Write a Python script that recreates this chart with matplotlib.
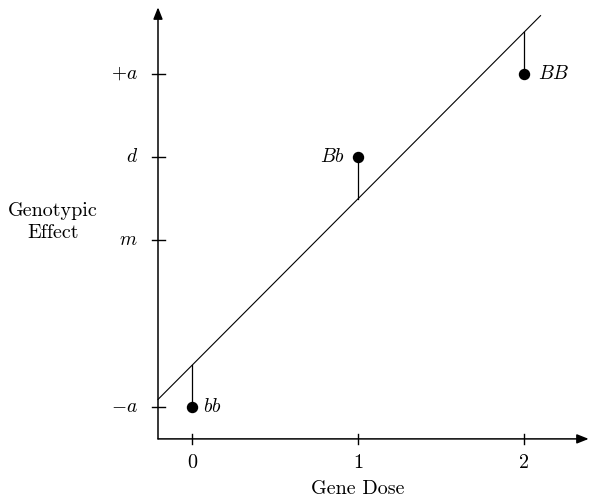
import numpy as np
import matplotlib.pyplot as plt

plt.rcParams['mathtext.fontset'] = 'cm'
plt.rcParams['font.family'] = 'cmr10'
plt.rcParams['axes.formatter.use_mathtext'] = True

# genotypes: gene dose and genotypic value (in units of a)
dose = [0, 1, 2]
geno_val = [-1.0, 0.5, 1.0]
geno_lab = ['$bb$', '$Bb$', '$BB$']

# y tick positions / labels
ytick_pos = [-1.0, 0.0, 0.5, 1.0]
ytick_lab = ['$-a$', '$m$', '$d$', '$+a$']
xtick_pos = [0, 1, 2]

# fitted regression line
b0, b1 = -0.75, 1.0

fig = plt.figure(figsize=(5.9, 5.01), dpi=100)
ax = fig.add_axes([0, 0, 1, 1])
ax.set_xlim(-1.157, 2.398)
ax.set_ylim(-1.565, 1.444)
ax.axis('off')

fs_txt = 14.5
fs_math = 14

x0, y0 = -0.205, -1.192
# axes with arrow heads
ax.annotate('', xy=(x0, 1.40), xytext=(x0, y0),
            arrowprops=dict(arrowstyle='-|>,head_length=0.5,head_width=0.2',
                            lw=1.1, color='black',
                            mutation_scale=14, shrinkA=0, shrinkB=0))
ax.annotate('', xy=(2.39, y0), xytext=(x0, y0),
            arrowprops=dict(arrowstyle='-|>,head_length=0.5,head_width=0.2',
                            lw=1.1, color='black',
                            mutation_scale=14, shrinkA=0, shrinkB=0))

for yt, lab in zip(ytick_pos, ytick_lab):
    ax.plot([x0 - 0.036, x0 + 0.042], [yt, yt], color='black', lw=1.0)
    ax.text(x0 - 0.12, yt, lab, ha='right', va='center', fontsize=fs_math)
for xt in xtick_pos:
    ax.plot([xt, xt], [y0 - 0.03, y0 + 0.03], color='black', lw=1.0)
    ax.text(xt, y0 - 0.145, str(xt), ha='center', va='center', fontsize=fs_txt)

ax.text(1, y0 - 0.30, 'Gene Dose', ha='center', va='center', fontsize=fs_txt)
ax.text(-0.84, 0.11, 'Genotypic\nEffect', ha='center', va='center',
        fontsize=fs_txt, linespacing=1.3)

# regression line
xl = np.array([x0, 2.1])
ax.plot(xl, b0 + b1 * xl, color='black', lw=0.8)

# deviations from the line
for xd, yv in zip(dose, geno_val):
    ax.plot([xd, xd], [yv, b0 + b1 * xd], color='black', lw=0.9)
ax.plot(dose, geno_val, 'o', color='black', markersize=7.2)

ax.text(dose[0] + 0.065, geno_val[0], geno_lab[0], ha='left', va='center', fontsize=fs_math)
ax.text(dose[1] - 0.08, geno_val[1], geno_lab[1], ha='right', va='center', fontsize=fs_math)
ax.text(dose[2] + 0.085, geno_val[2], geno_lab[2], ha='left', va='center', fontsize=fs_math)

fig.savefig('out.png', dpi=100)
